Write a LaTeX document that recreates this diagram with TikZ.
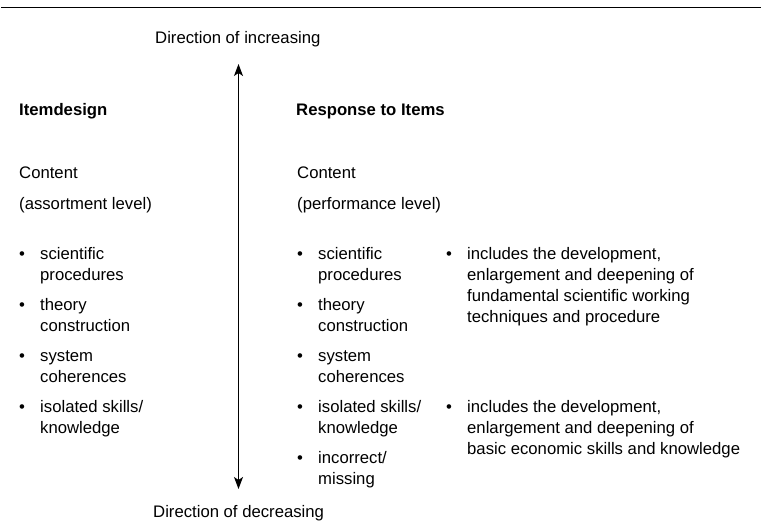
\documentclass[tikz,border=0pt]{standalone}
\usepackage{fontspec}
\setmainfont{Liberation Sans}
\usetikzlibrary{arrows.meta}
\begin{document}
\begin{tikzpicture}[x=1pt,y=-1pt,
    txt/.style={anchor=base west,inner sep=0pt,align=left,font=\fontsize{16.7}{21}\selectfont},
    hd/.style={txt,font=\fontsize{16.7}{21}\selectfont\bfseries},
    dot/.style={txt}]
    \useasboundingbox (0,0) rectangle (762,532);
    \draw[line width=1.3pt] (1,7.5) -- (761,7.5);

    \node[txt] (inc) at (155,44) {Direction of increasing};
    \node[txt] (dec) at (153,517) {Direction of decreasing};
    \coordinate (up) at (238.5,64);
    \coordinate (down) at (238.5,489);
    \draw[line width=1.1pt,{Stealth[length=12pt,width=9pt,inset=3pt]}-{Stealth[length=12pt,width=9pt,inset=3pt]}] (up) -- (down);

    % left column (multi-line nodes sit on their last baseline)
    \node[hd] (design) at (19,115) {Itemdesign};
    \node[txt] (cl) at (19,178) {Content};
    \node[txt] (al) at (19,209) {(assortment level)};

    \node[dot] (b1) at (19,259) {•};
    \node[txt] (l1) at (40,280) {scientific\\procedures};
    \node[dot] (b2) at (19,310) {•};
    \node[txt] (l2) at (40,331) {theory\\construction};
    \node[dot] (b3) at (19,361) {•};
    \node[txt] (l3) at (40,382) {system\\coherences};
    \node[dot] (b4) at (19,412) {•};
    \node[txt] (l4) at (40,433) {isolated skills/\\knowledge};

    % right column
    \node[hd] (resp) at (296,115) {Response to Items};
    \node[txt] (cr) at (297,178) {Content};
    \node[txt] (pl) at (297,209) {(performance level)};

    \node[dot] (c1) at (297,259) {•};
    \node[txt] (r1) at (318,280) {scientific\\procedures};
    \node[dot] (c2) at (297,310) {•};
    \node[txt] (r2) at (318,331) {theory\\construction};
    \node[dot] (c3) at (297,361) {•};
    \node[txt] (r3) at (318,382) {system\\coherences};
    \node[dot] (c4) at (297,412) {•};
    \node[txt] (r4) at (318,433) {isolated skills/\\knowledge};
    \node[dot] (c5) at (297,463) {•};
    \node[txt] (r5) at (318,484) {incorrect/\\missing};

    \node[dot] (d1) at (446,259) {•};
    \node[txt] (x1) at (467,322) {includes the development,\\enlargement and deepening of\\fundamental scientific working\\techniques and procedure};
    \node[dot] (d2) at (446,412) {•};
    \node[txt] (x2) at (467,454) {includes the development,\\enlargement and deepening of\\basic economic skills and knowledge};
\end{tikzpicture}
\end{document}
